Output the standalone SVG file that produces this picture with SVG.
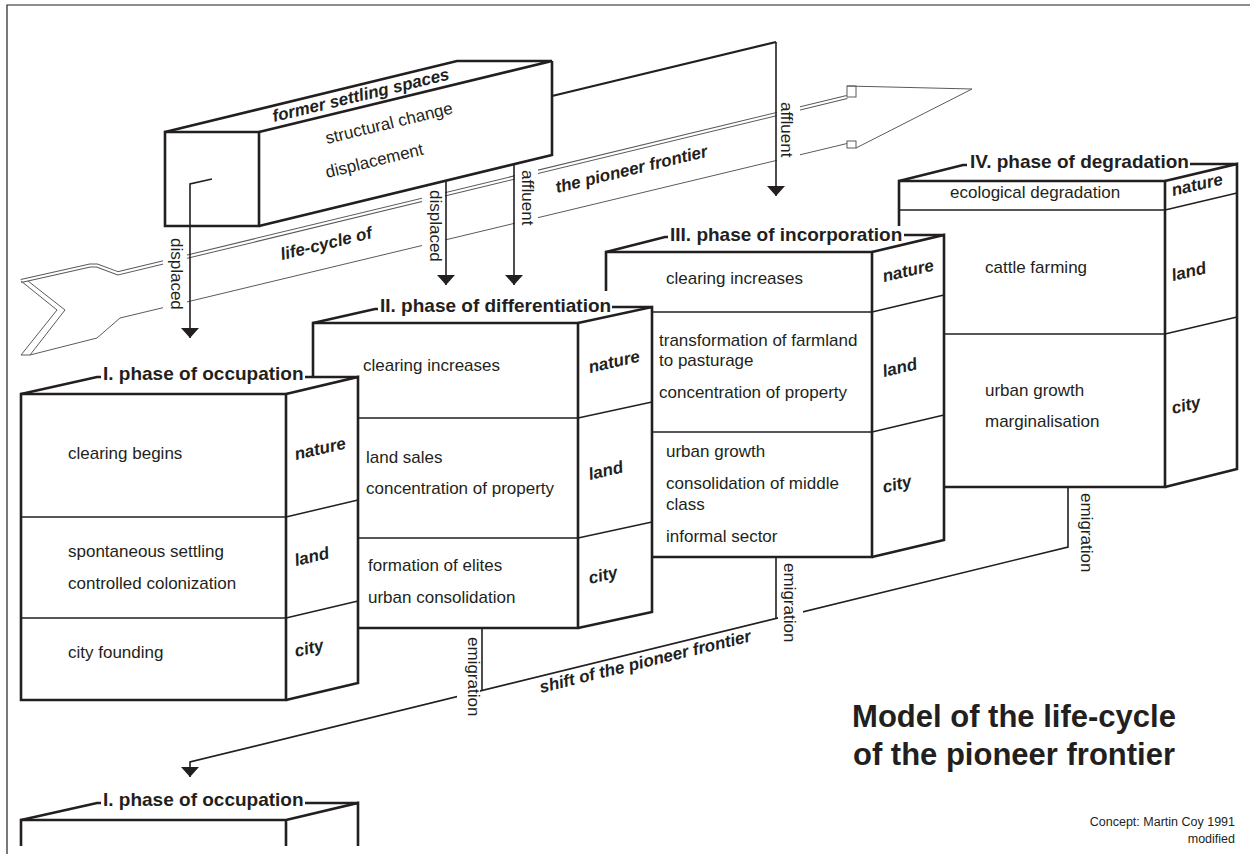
<svg xmlns="http://www.w3.org/2000/svg" width="1250" height="854" viewBox="0 0 1250 854">
  <defs>
    <style>
      .frame { fill: none; stroke: #231f20; stroke-width: 1.2; }
      .thick { fill: none; stroke: #231f20; stroke-width: 2.6; stroke-linejoin: miter; }
      .thin { fill: none; stroke: #231f20; stroke-width: 1.5; }
      .conn { fill: none; stroke: #231f20; stroke-width: 1.6; }
      .conn-bold { fill: none; stroke: #231f20; stroke-width: 2.2; }
      .grey { fill: none; stroke: #5a5a5a; stroke-width: 1; }
      .dbl-out { fill: none; stroke: #5a5a5a; stroke-width: 4.2; }
      .dbl-in { fill: none; stroke: #ffffff; stroke-width: 2.2; }
      text { font-family: "Liberation Sans", Arial, Helvetica, sans-serif; fill: #231f20; }
      .t { font-size: 17px; }
      .lbl { font-size: 19px; font-weight: bold; }
      .side { font-size: 17px; font-weight: bold; font-style: italic; }
      .title { font-size: 31px; font-weight: bold; text-anchor: middle; }
      .credit { font-size: 12.5px; text-anchor: end; }
    </style>
    <marker id="ah" viewBox="0 0 10 18" refX="10" refY="9" markerWidth="10" markerHeight="18" markerUnits="userSpaceOnUse" orient="auto">
      <path d="M0,0 L10,9 L0,18 Z" fill="#231f20"/>
    </marker>
    <!-- gaps in the frontier arrow where the vertical labels cross it -->
    <mask id="arrowGaps" maskUnits="userSpaceOnUse" x="0" y="0" width="1250" height="854">
      <rect x="0" y="0" width="1250" height="854" fill="#fff"/>
      <rect x="163" y="232" width="24" height="90" fill="#000"/>
      <rect x="422" y="185" width="23" height="85" fill="#000"/>
      <rect x="515" y="165" width="23" height="70" fill="#000"/>
      <rect x="777" y="98" width="23" height="68" fill="#000"/>
    </mask>
    <!-- gaps in the emigration line behind the "emigration" labels -->
    <mask id="shiftGaps" maskUnits="userSpaceOnUse" x="0" y="0" width="1250" height="854">
      <rect x="0" y="0" width="1250" height="854" fill="#fff"/>
      <rect x="457" y="680" width="23" height="25" fill="#000"/>
      <rect x="778" y="600" width="25" height="30" fill="#000"/>
    </mask>
  </defs>

  <!-- frame -->
  <path class="frame" d="M7,854 V5 H1250"/>

  <!-- big hollow arrow: life-cycle of the pioneer frontier -->
  <g id="frontier-arrow" mask="url(#arrowGaps)">
    <path class="dbl-out" d="M21,281 L90,265.5 L97,265.5 L118,273.4 L847,97"/>
    <path class="dbl-in" d="M21,281 L90,265.5 L97,265.5 L118,273.4 L847,97"/>
    <path class="grey" d="M21,281 L57,310 L21,355 M28,281 L65,310 L30,355 M21,355 H30"/>
    <path class="grey" d="M30,355 L97,338 L120,318 L847,143.5"/>
    <rect class="grey" x="847" y="86" width="9" height="11"/>
    <rect class="grey" x="847" y="141" width="9" height="7"/>
    <path class="grey" d="M847,86 L972,89 L856,148"/>
  </g>
  <g id="frontier-arrow-labels">
    <text class="side" transform="translate(282,260) rotate(-13.6)">life-cycle of</text>
    <text class="side" transform="translate(557,193) rotate(-13.6)">the pioneer frontier</text>
  </g>

  <!-- former settling spaces -->
  <g id="former-settling-spaces">
    <path class="thick" d="M165,132 H259 V226 H165 Z"/>
    <path class="thick" d="M165,132 L457,61 H552 L259,132"/>
    <path class="thick" d="M552,61 V155 L259,226"/>
    <text class="side" transform="translate(274,122) rotate(-13.6)">former settling spaces</text>
    <text class="t" transform="translate(327,144) rotate(-13.6)">structural change</text>
    <text class="t" transform="translate(327,178) rotate(-13.6)">displacement</text>
  </g>

  <!-- phase IV -->
  <g id="phase-4-degradation">
    <path class="thick" d="M899,226 V181 H1165 V487 H944"/>
    <path class="thin" d="M899,210 H1165 M944,334 H1165"/>
    <path class="thick" d="M1165,181 L1237,164 V469 L1165,487"/>
    <path class="thin" d="M1165,210 L1237,193 M1165,334 L1237,317"/>
    <path class="thick" d="M899,181 L963,165 H967 M1190,164 H1237"/>
    <text class="lbl" x="970" y="168">IV. phase of degradation</text>
    <text class="t" x="950" y="198">ecological degradation</text>
    <text class="t" x="985" y="273">cattle farming</text>
    <text class="t" x="985" y="396">urban growth</text>
    <text class="t" x="985" y="427">marginalisation</text>
    <text class="side" transform="translate(1173,196) rotate(-13)">nature</text>
    <text class="side" transform="translate(1173,281) rotate(-13)">land</text>
    <text class="side" transform="translate(1173,414) rotate(-13)">city</text>
  </g>

  <!-- phase III -->
  <g id="phase-3-incorporation">
    <path class="thick" d="M606,291 V252 H872 V557 H652"/>
    <path class="thin" d="M652,312 H872 M652,432 H872"/>
    <path class="thick" d="M872,252 L944,235 V540 L872,557"/>
    <path class="thin" d="M872,312 L944,295 M872,432 L944,415"/>
    <path class="thick" d="M606,252 L665,237 H668 M904,235 H944"/>
    <text class="lbl" x="670" y="241">III. phase of incorporation</text>
    <text class="t" x="666" y="284">clearing increases</text>
    <text class="t" x="659" y="346">transformation of farmland</text>
    <text class="t" x="659" y="366">to pasturage</text>
    <text class="t" x="659" y="398">concentration of property</text>
    <text class="t" x="666" y="457">urban growth</text>
    <text class="t" x="666" y="489">consolidation of middle</text>
    <text class="t" x="666" y="510">class</text>
    <text class="t" x="666" y="542">informal sector</text>
    <text class="side" transform="translate(884,282) rotate(-13)">nature</text>
    <text class="side" transform="translate(884,377) rotate(-13)">land</text>
    <text class="side" transform="translate(884,493) rotate(-13)">city</text>
  </g>

  <!-- phase II -->
  <g id="phase-2-differentiation">
    <path class="thick" d="M313,377 V323 H578 V628 H358"/>
    <path class="thin" d="M358,418 H578 M358,538 H578"/>
    <path class="thick" d="M578,323 L652,307 V612 L578,628"/>
    <path class="thin" d="M578,418 L652,402 M578,538 L652,522"/>
    <path class="thick" d="M313,323 L375,309 H378 M612,307 H652"/>
    <text class="lbl" x="380" y="312">II. phase of differentiation</text>
    <text class="t" x="363" y="371">clearing increases</text>
    <text class="t" x="366" y="463">land sales</text>
    <text class="t" x="366" y="494">concentration of property</text>
    <text class="t" x="368" y="571">formation of elites</text>
    <text class="t" x="368" y="603">urban consolidation</text>
    <text class="side" transform="translate(590,373) rotate(-13)">nature</text>
    <text class="side" transform="translate(590,480) rotate(-13)">land</text>
    <text class="side" transform="translate(590,584) rotate(-13)">city</text>
  </g>

  <!-- phase I -->
  <g id="phase-1-occupation">
    <path class="thick" d="M21,394 H286 V700 H21 Z"/>
    <path class="thin" d="M21,517 H286 M21,618 H286"/>
    <path class="thick" d="M286,394 L358,377 V683 L286,700"/>
    <path class="thin" d="M286,517 L358,500 M286,618 L358,601"/>
    <path class="thick" d="M21,394 L97,377 H101 M305,377 H358"/>
    <text class="lbl" x="103" y="380">I. phase of occupation</text>
    <text class="t" x="68" y="459">clearing begins</text>
    <text class="t" x="68" y="557">spontaneous settling</text>
    <text class="t" x="68" y="589">controlled colonization</text>
    <text class="t" x="68" y="658">city founding</text>
    <text class="side" transform="translate(296,460) rotate(-13)">nature</text>
    <text class="side" transform="translate(296,566) rotate(-13)">land</text>
    <text class="side" transform="translate(296,657) rotate(-13)">city</text>
  </g>

  <!-- next cycle: phase I again -->
  <g id="phase-1-next">
    <path class="thick" d="M21,846 V820 H286 V846 M286,820 L358,803 V846"/>
    <path class="thick" d="M21,820 L97,803 H101 M305,803 H358"/>
    <text class="lbl" x="103" y="806">I. phase of occupation</text>
  </g>

  <!-- connectors -->
  <g id="connectors">
    <path class="conn" d="M212,179 L190,184 V338" marker-end="url(#ah)"/>
    <path class="conn" d="M446,181 V285" marker-end="url(#ah)"/>
    <path class="conn" d="M514,164 V285" marker-end="url(#ah)"/>
    <path class="conn-bold" d="M552,96 L776,42"/>
    <path class="conn" d="M776,42 V196" marker-end="url(#ah)"/>
    <g mask="url(#shiftGaps)">
      <path class="conn" d="M1068,487 V547 L190,762 V777" marker-end="url(#ah)"/>
    </g>
    <path class="conn" d="M776,557 V618.5"/>
    <path class="conn" d="M482,628 V690.5"/>
    <text class="t" transform="translate(171,238) rotate(90)">displaced</text>
    <text class="t" transform="translate(430,190) rotate(90)">displaced</text>
    <text class="t" transform="translate(522,170) rotate(90)">affluent</text>
    <text class="t" transform="translate(781,102) rotate(90)">affluent</text>
    <text class="t" transform="translate(468,637) rotate(90)">emigration</text>
    <text class="t" transform="translate(784,563) rotate(90)">emigration</text>
    <text class="t" transform="translate(1081,493) rotate(90)">emigration</text>
    <text class="side" transform="translate(541,693) rotate(-13.8)">shift of the pioneer frontier</text>
  </g>

  <!-- title -->
  <g id="title">
    <text class="title" x="1014" y="727">Model of the life-cycle</text>
    <text class="title" x="1014" y="765">of the pioneer frontier</text>
    <text class="credit" x="1235" y="826">Concept: Martin Coy 1991</text>
    <text class="credit" x="1235" y="843">modified</text>
  </g>
</svg>
